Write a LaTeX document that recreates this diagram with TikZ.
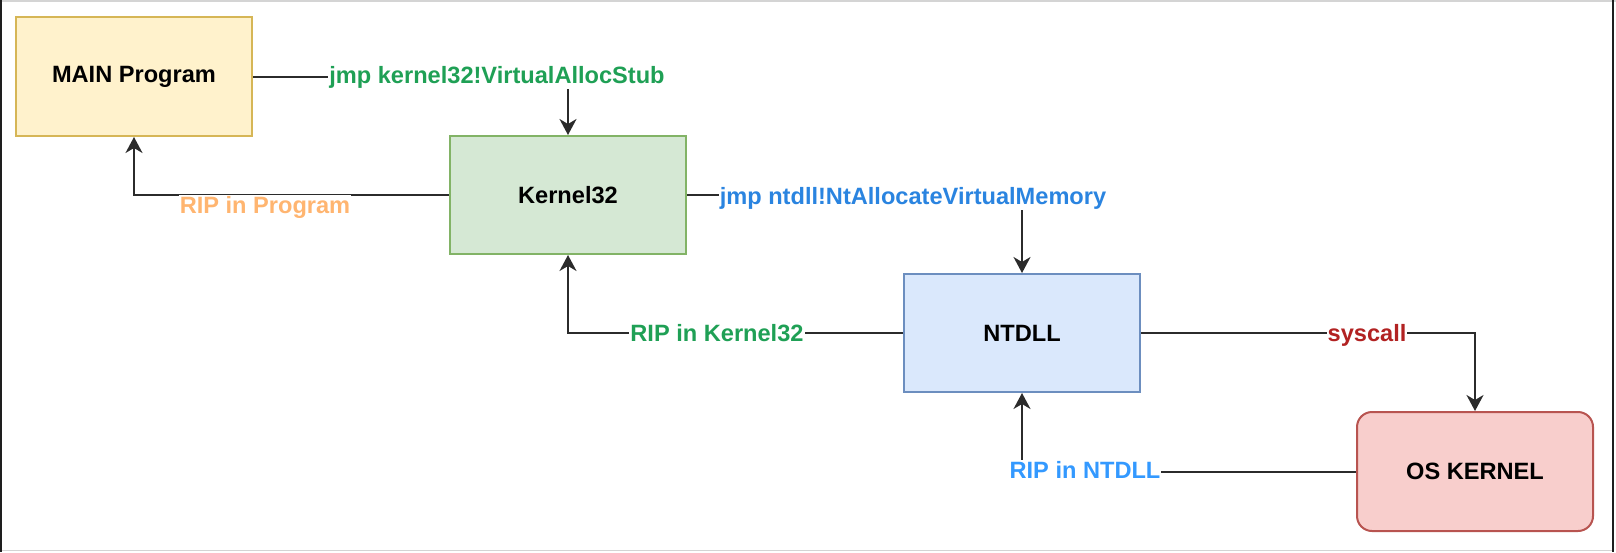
\documentclass[tikz,border=0pt]{standalone}
\usepackage{fontspec}
\setmainfont{Liberation Sans}
\usetikzlibrary{arrows.meta}
\definecolor{mainfill}{HTML}{FFF2CC}
\definecolor{maindraw}{HTML}{D6B656}
\definecolor{kfill}{HTML}{D5E8D4}
\definecolor{kdraw}{HTML}{82B366}
\definecolor{nfill}{HTML}{DAE8FC}
\definecolor{ndraw}{HTML}{6C8EBF}
\definecolor{ofill}{HTML}{F8CECC}
\definecolor{odraw}{HTML}{B85450}
\definecolor{lgreen}{HTML}{1FA055}
\definecolor{lorange}{HTML}{FFB570}
\definecolor{lblue}{HTML}{2A84E0}
\definecolor{lltblue}{HTML}{3399FF}
\definecolor{lred}{HTML}{B22222}
\definecolor{linecol}{HTML}{2B2B2B}
\definecolor{framegray}{HTML}{D4D4D4}
\definecolor{framedark}{HTML}{1E1E1E}
\newcommand{\dfont}{\fontsize{23.6}{28}\selectfont\bfseries}
\begin{document}
\begin{tikzpicture}[x=1pt,y=-1pt,
  box/.style={draw, line width=2pt, minimum width=236pt, minimum height=118pt, inner sep=0pt, font=\dfont, text=black},
  conn/.style={draw=linecol, line width=2pt},
  tip/.style={-{Stealth[length=16pt,width=17pt,inset=5pt]}},
  lbl/.style={fill=white, inner sep=1pt, font=\dfont, text height=17pt, text depth=5pt}]
\useasboundingbox (0,0) rectangle (1616,552);
% frame
\draw[framegray, line width=1.5pt] (0,0.75) -- (1616,0.75);
\draw[framegray, line width=1.5pt] (0,550.5) -- (1613,550.5);
\draw[framedark, line width=2pt] (1,0) -- (1,552);
\draw[framedark, line width=2pt] (1613,0) -- (1613,552);
% boxes
\node[box, fill=mainfill, draw=maindraw, minimum height=119pt] (main) at (134,76.5) {MAIN Program};
\node[box, fill=kfill, draw=kdraw] (k32) at (568,195) {Kernel32};
\node[box, fill=nfill, draw=ndraw] (ntdll) at (1022,333) {NTDLL};
\node[box, fill=ofill, draw=odraw, rounded corners=15pt, minimum height=119pt] (os) at (1475,471.5) {OS KERNEL};
% connectors
\draw[conn, tip] (main.east) -| (k32.north);
\draw[conn, tip] (k32.west) -| (main.south);
\draw[conn, tip] (k32.east) -| (ntdll.north);
\draw[conn, tip] (ntdll.west) -| (k32.south);
\draw[conn, tip] (ntdll.east) -| (os.north);
\draw[conn, tip] (os.west) -| (ntdll.south);
% labels
\node[lbl, text=lgreen] (l1) at (497,77) {jmp kernel32!VirtualAllocStub};
\node[lbl, text=lorange] (l2) at (265,207) {RIP in Program};
\node[lbl, text=lblue] (l3) at (913,198) {jmp ntdll!NtAllocateVirtualMemory};
\node[lbl, text=lgreen] (l4) at (717,335) {RIP in Kernel32};
\node[lbl, text=lred] (l5) at (1367,335) {syscall};
\node[lbl, text=lltblue] (l6) at (1085,472) {RIP in NTDLL};
\end{tikzpicture}
\end{document}
